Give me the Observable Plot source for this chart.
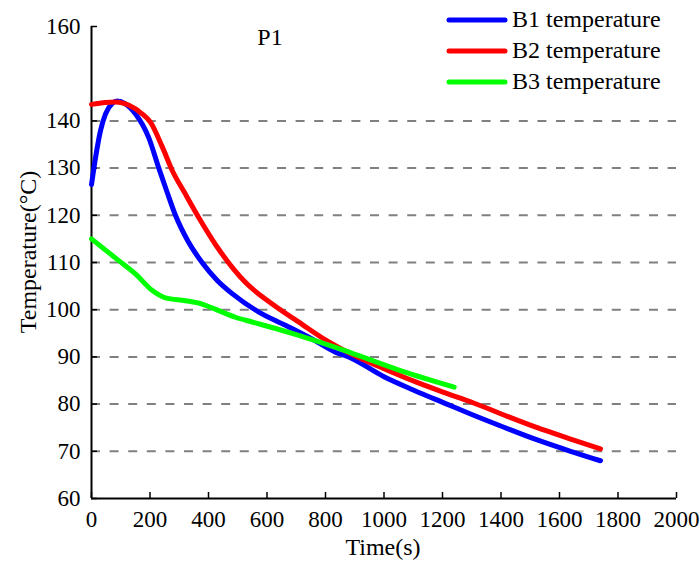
<!DOCTYPE html>
<html>
<head>
<meta charset="utf-8">
<script src="https://cdn.jsdelivr.net/npm/d3@7"></script>
<script src="https://cdn.jsdelivr.net/npm/@observablehq/plot@0.6"></script>
<style>
  body { margin: 0; background: #fff; }
  #wrap { position: relative; width: 700px; height: 563px; font-family: "Liberation Serif", "Times New Roman", serif; color: #000; }
  #chart { position: absolute; left: 0; top: 0; }
  .lbl { position: absolute; font-size: 24px; white-space: nowrap; line-height: 1; }
  #ylabel { left: 28px; top: 252px; transform: translate(-50%, -50%) rotate(-90deg); }
  #xlabel { left: 383px; top: 547px; transform: translate(-50%, -50%); }
  #p1 { left: 270px; top: 37px; transform: translate(-50%, -50%); }
  #legend { position: absolute; left: 445px; top: 4px; }
  .row { display: flex; align-items: center; height: 31px; font-size: 24px; }
  .row svg { margin-right: 3px; }
</style>
</head>
<body>
<div id="wrap">
  <div id="chart"></div>
  <div class="lbl" id="ylabel">Temperature(°C)</div>
  <div class="lbl" id="xlabel">Time(s)</div>
  <div class="lbl" id="p1">P1</div>
  <div id="legend"></div>
</div>
<script>
// ---- data ----
const seriesNames = ["B1 temperature", "B2 temperature", "B3 temperature"];
const seriesColors = ["#0000ff", "#ff0000", "#00ff00"];

const b1Time = [0, 14, 31, 48, 71, 88, 116, 150, 196, 230, 258, 287, 330, 378, 430, 481, 572, 663, 754, 834, 879, 1000, 1100, 1215, 1296, 1410, 1524, 1638, 1740];
const b1Temp = [126.5, 132.3, 138, 141.5, 143.7, 144.2, 143.6, 141.5, 136.4, 130, 125, 120, 114.5, 110, 106.2, 103.4, 99.5, 96.7, 93.8, 91, 90, 85.8, 83.0, 80, 77.9, 75.1, 72.4, 70.0, 68];

const b2Time = [0, 48, 82, 128, 173, 202, 242, 276, 321, 367, 435, 526, 618, 720, 800, 885, 1000, 1113, 1204, 1296, 1410, 1524, 1638, 1740];
const b2Temp = [143.5, 143.9, 144, 143.3, 141.5, 139.7, 134.5, 129.5, 124.5, 119.5, 112.8, 105.8, 101.2, 96.9, 93.6, 90.7, 87.5, 84.6, 82.5, 80.5, 77.7, 75.0, 72.6, 70.5];

const b3Time = [0, 93, 150, 207, 253, 321, 378, 435, 492, 549, 641, 700, 834, 885, 1056, 1240];
const b3Temp = [115, 110.4, 107.6, 104.1, 102.5, 101.9, 101.2, 99.8, 98.4, 97.4, 95.8, 94.7, 92.0, 90.9, 87.1, 83.6];

const xTicks = [0, 200, 400, 600, 800, 1000, 1200, 1400, 1600, 1800, 2000];
const yTicks = [60, 70, 80, 90, 100, 110, 120, 130, 140, 160];
const gridValues = [70, 80, 90, 100, 110, 120, 130, 140];

// ---- build table ----
const times = [b1Time, b2Time, b3Time];
const temps = [b1Temp, b2Temp, b3Temp];
const rows = [];
seriesNames.forEach((s, i) => times[i].forEach((t, j) => rows.push({series: s, t, T: temps[i][j]})));

const font = '"Liberation Serif", "Times New Roman", serif';

const chart = Plot.plot({
  width: 700,
  height: 563,
  marginLeft: 91,
  marginRight: 24,
  marginTop: 26,
  marginBottom: 65,
  style: {fontFamily: font, fontSize: "23px", background: "transparent", color: "#000"},
  x: {domain: [0, 2000]},
  y: {domain: [60, 160]},
  color: {domain: seriesNames, range: seriesColors},
  marks: [
    Plot.ruleY(gridValues, {x1: 0, x2: 2000, stroke: "#808080", strokeWidth: 2, strokeDasharray: "9,9.6"}),
    Plot.axisX({ticks: xTicks, tickSize: -6, tickPadding: 18, tickFormat: d => String(d), fontSize: 23, label: null, strokeWidth: 1.5}),
    Plot.axisY({ticks: yTicks, tickSize: -6, tickPadding: 17, tickFormat: d => String(d), fontSize: 23, label: null, strokeWidth: 1.5}),
    Plot.ruleX([0], {y1: 60, y2: 160, stroke: "#000", strokeWidth: 2}),
    Plot.ruleY([60], {x1: 0, x2: 2000, stroke: "#000", strokeWidth: 2}),
    Plot.line(rows, {x: "t", y: "T", z: "series", stroke: "series", strokeWidth: 5, curve: "monotone-x", strokeLinecap: "round", strokeLinejoin: "round"})
  ]
});
document.getElementById("chart").appendChild(chart);

// ---- legend ----
const legend = document.getElementById("legend");
seriesNames.forEach((s, i) => {
  const row = document.createElement("div");
  row.className = "row";
  row.innerHTML = `<svg width="64" height="10"><line x1="4" y1="5" x2="60" y2="5" stroke="${seriesColors[i]}" stroke-width="5" stroke-linecap="round"/></svg><span>${s}</span>`;
  legend.appendChild(row);
});
</script>
</body>
</html>
